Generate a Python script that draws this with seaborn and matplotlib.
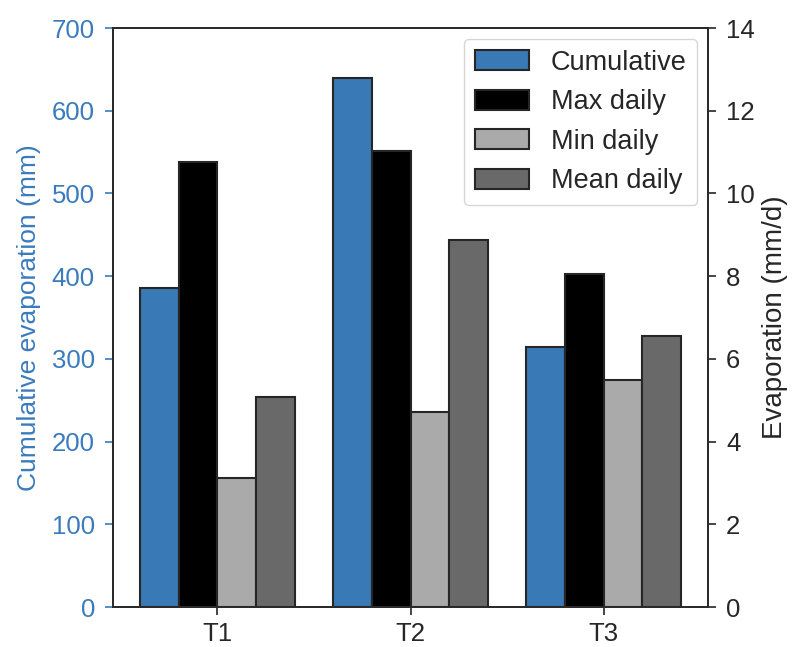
import matplotlib
matplotlib.use("Agg")
import matplotlib.pyplot as plt
import seaborn as sns
import pandas as pd
from matplotlib.patches import Patch

treatments = ["T1", "T2", "T3"]
cumulative = [386, 639, 314]
max_daily = [10.76, 11.03, 8.06]
min_daily = [3.12, 4.72, 5.50]
mean_daily = [5.08, 8.87, 6.55]
series = ["Cumulative", "Max daily", "Min daily", "Mean daily"]
colors = {"Cumulative": "#3879b6", "Max daily": "#000000",
          "Min daily": "#aaaaaa", "Mean daily": "#696969"}
blue = "#3a7bbd"
edge = "#262626"

sns.set_style("ticks")
plt.rcParams["font.family"] = ["Liberation Sans", "DejaVu Sans"]
plt.rcParams["font.size"] = 18

df_cum = pd.DataFrame({"treatment": treatments, "value": cumulative, "series": "Cumulative"})
df_daily = pd.concat([
    pd.DataFrame({"treatment": treatments, "value": max_daily, "series": "Max daily"}),
    pd.DataFrame({"treatment": treatments, "value": min_daily, "series": "Min daily"}),
    pd.DataFrame({"treatment": treatments, "value": mean_daily, "series": "Mean daily"}),
], ignore_index=True)

fig = plt.figure(figsize=(7.92, 6.47), dpi=100)
ax1 = fig.add_axes([0.1427, 0.0618, 0.7513, 0.8949])
ax2 = ax1.twinx()

sns.barplot(data=df_cum, x="treatment", y="value", hue="series", hue_order=series,
            palette=colors, order=treatments, width=0.8, edgecolor=edge, dodge=True,
            linewidth=1.5, ax=ax1, legend=False, saturation=1)
sns.barplot(data=df_daily, x="treatment", y="value", hue="series", hue_order=series,
            palette=colors, order=treatments, width=0.8, edgecolor=edge, dodge=True,
            linewidth=1.5, ax=ax2, legend=False, saturation=1)

ax1.set_ylim(0, 700)
ax2.set_ylim(0, 14)
ax1.set_yticks(range(0, 701, 100))
ax2.set_yticks(range(0, 15, 2))
ax1.set_xlim(-0.54, 2.54)
ax1.set_xlabel("")
ax2.set_xlabel("")
ax1.set_ylabel("Cumulative evaporation (mm)", color=blue, fontsize=19, labelpad=8)
ax2.set_ylabel("Evaporation (mm/d)", fontsize=20, labelpad=5)
for ax in (ax1, ax2):
    ax.tick_params(labelsize=18.5, length=6, width=1.2, pad=7)
    for s in ax.spines.values():
        s.set_visible(True)
        s.set_color("#2a2a2a")
        s.set_linewidth(1.3)
ax1.tick_params(axis="y", colors=blue)
ax1.tick_params(axis="x", pad=5)

handles = [Patch(facecolor=colors[s], edgecolor=edge, linewidth=1.5, label=s) for s in series]
ax2.legend(handles=handles, loc="upper right", frameon=True, fontsize=19.5,
           labelspacing=0.5, borderaxespad=0.4, handleheight=0.75)

fig.savefig("out.png", dpi=100)
